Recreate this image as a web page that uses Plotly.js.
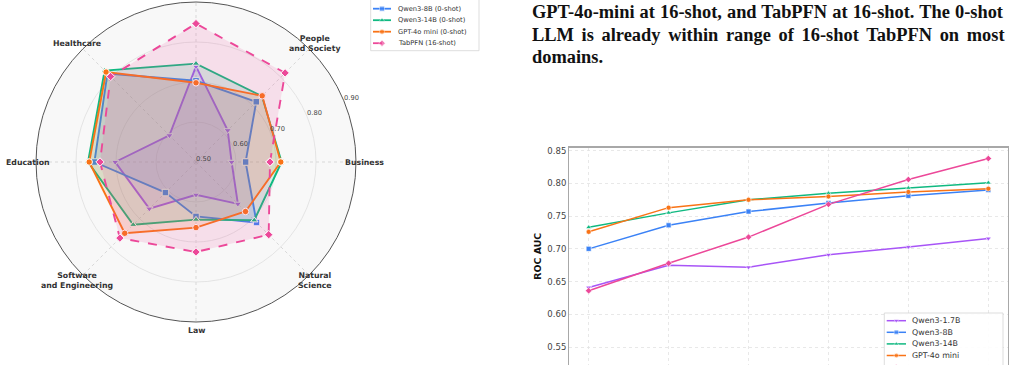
<!DOCTYPE html>
<html>
<head>
<meta charset="utf-8">
<script src="https://cdn.plot.ly/plotly-3.0.1.min.js"></script>
<style>html,body{margin:0;padding:0;background:#fff;}#chart{width:1017px;height:365px;}</style>
</head>
<body>
<div id="chart"></div>
<script>
// ---------------- data ----------------
// radar: domains (top axis label lies outside the cropped picture)
const domains = ['Business', 'People<br>and Society', '', 'Healthcare', 'Education',
                 'Software<br>and Engineering', 'Law', 'Natural<br>Science'];
const radarNames = ['Qwen3-1.7B (0-shot)', 'Qwen3-8B (0-shot)', 'Qwen3-14B (0-shot)',
                    'GPT-4o mini (0-shot)', 'TabPFN (16-shot)'];
const radarQwen17 = [0.589, 0.612, 0.739, 0.594, 0.702, 0.665, 0.582, 0.648];
const radarQwen8  = [0.624, 0.713, 0.703, 0.813, 0.754, 0.608, 0.636, 0.714];
const radarQwen14 = [0.714, 0.733, 0.746, 0.823, 0.770, 0.722, 0.644, 0.706];
const radarGpt    = [0.712, 0.734, 0.698, 0.818, 0.767, 0.752, 0.664, 0.675];
const radarTabpfn = [0.685, 0.815, 0.846, 0.802, 0.740, 0.769, 0.725, 0.757];
const radialTicks = [0.5, 0.6, 0.7, 0.8, 0.9];
const radialTickText = ['0.50', '0.60', '0.70', '0.80', '0.90'];

// line chart: ROC AUC vs number of shots
const shots = ['0', '1', '2', '4', '8', '16'];
const lineNames = ['Qwen3-1.7B', 'Qwen3-8B', 'Qwen3-14B', 'GPT-4o mini', 'TabPFN'];
const aucQwen17 = [0.641, 0.675, 0.672, 0.691, 0.703, 0.716];
const aucQwen8  = [0.700, 0.736, 0.757, 0.770, 0.781, 0.790];
const aucQwen14 = [0.733, 0.755, 0.775, 0.785, 0.793, 0.801];
const aucGpt    = [0.726, 0.763, 0.775, 0.780, 0.787, 0.792];
const aucTabpfn = [0.636, 0.678, 0.718, 0.768, 0.806, 0.838];
const yTicks = [0.55, 0.60, 0.65, 0.70, 0.75, 0.80, 0.85];

const captionLines = [
  'GPT-4o-mini at 16-shot, and TabPFN at 16-shot. The 0-shot',
  'LLM is already within range of 16-shot TabPFN on most',
  'domains.'
];

// ---------------- style ----------------
const W = 1017, H = 365;
const colors = ['#a855f7', '#3b82f6', '#10b981', '#f97316', '#ec4899'];
const symbols = ['triangle-down', 'square', 'triangle-up', 'circle', 'diamond'];
const radarDash = ['solid', 'solid', 'solid', 'solid', 'dash'];
const FONT = 'DejaVu Sans, sans-serif';
function rgba(hex, a) {
  const n = parseInt(hex.slice(1), 16);
  return `rgba(${n >> 16},${(n >> 8) & 255},${n & 255},${a})`;
}

const radarVals = [radarQwen17, radarQwen8, radarQwen14, radarGpt, radarTabpfn];
const aucVals = [aucQwen17, aucQwen8, aucQwen14, aucGpt, aucTabpfn];
const angles = domains.map((d, i) => i * 360 / domains.length);
const RMIN = 0.5, RMAX = 0.9, RANGLE = 22.5;

const traces = [];
// radar traces
radarVals.forEach((v, k) => {
  traces.push({
    type: 'scatterpolar', subplot: 'polar',
    r: v.concat([v[0]]), theta: angles.concat([angles[0]]),
    mode: 'lines+markers', fill: 'toself', fillcolor: rgba(colors[k], 0.15),
    line: {color: colors[k], width: 1.9, dash: radarDash[k]},
    marker: {symbol: symbols[k], size: 6.5, color: colors[k], line: {color: 'white', width: 1}},
    name: radarNames[k], showlegend: false, hoverinfo: 'skip'
  });
});
// line chart traces
aucVals.forEach((v, k) => {
  traces.push({
    type: 'scatter', xaxis: 'x2', yaxis: 'y2', x: shots, y: v,
    mode: 'lines+markers',
    line: {color: colors[k], width: 1.5},
    marker: {symbol: symbols[k], size: 5, color: colors[k], line: {color: 'white', width: 0.6}},
    name: lineNames[k], showlegend: false, hoverinfo: 'skip'
  });
});

// ---------------- legends (drawn on a pixel overlay axis) ----------------
const shapes = [], annotations = [];
function legendBlock(names, dashes, box, xs, y0, step, fsize, msize, lw) {
  shapes.push({type: 'rect', xref: 'x3', yref: 'y3', x0: box[0], x1: box[1], y0: box[2], y1: box[3],
               line: {color: '#d4d4d4', width: 0.8}, fillcolor: 'rgba(255,255,255,0.9)', layer: 'below'});
  names.forEach((nm, k) => {
    const y = y0 + k * step;
    traces.push({
      type: 'scatter', xaxis: 'x3', yaxis: 'y3',
      x: [xs[0], (xs[0] + xs[1]) / 2, xs[1]], y: [y, y, y], mode: 'lines+markers',
      line: {color: colors[k], width: lw, dash: dashes[k]},
      marker: {symbol: symbols[k], size: [0, msize, 0], color: colors[k], line: {color: 'white', width: [0, 0.6, 0]}},
      showlegend: false, hoverinfo: 'skip'
    });
    annotations.push({xref: 'x3', yref: 'y3', x: xs[2], y: y, xanchor: 'left', yanchor: 'middle',
      text: nm, showarrow: false, font: {family: FONT, size: fsize, color: '#333'}});
  });
}
legendBlock(radarNames, radarDash, [370.7, 479, -12, 50.7], [373, 391, 395.5], -2.8, 11.5, 6.7, 5, 1.8);
legendBlock(lineNames, ['solid', 'solid', 'solid', 'solid', 'solid'], [884.3, 1003, 313, 380],
            [886.7, 906, 910], 320.7, 11.6, 7.9, 4.5, 1.5);

// radar geometry (pixels) used for label placement
const cx = 196, cy = 162, R = 160;
// category labels, centred just outside the outer ring
domains.forEach((d, i) => {
  if (!d) return;
  const a = angles[i] * Math.PI / 180;
  annotations.push({xref: 'x3', yref: 'y3', x: cx + 168 * Math.cos(a), y: cy - 168 * Math.sin(a),
    xanchor: 'center', yanchor: 'middle', text: d, showarrow: false,
    font: {family: FONT, size: 7.8, color: '#333', weight: 'bold'}});
});
// radial tick labels, horizontal, just beyond each ring along the 22.5 degree spoke
radialTicks.forEach((v, i) => {
  const rp = (v - RMIN) / (RMAX - RMIN) * R, a = RANGLE * Math.PI / 180;
  annotations.push({xref: 'x3', yref: 'y3', x: cx + rp * Math.cos(a) + 7.2, y: cy - rp * Math.sin(a) - 2.8,
    xanchor: 'center', yanchor: 'middle', text: radialTickText[i], showarrow: false,
    font: {family: FONT, size: 6.7, color: '#444'}});
});

// caption text (justified paragraph fragment)
const captionSpacing = [0.5, 3.1, 0];
const baselines = [18.5, 40.7, 62.9];
captionLines.forEach((t, i) => {
  annotations.push({xref: 'x3', yref: 'y3', x: 530, y: baselines[i] - 6.2, xanchor: 'left', yanchor: 'middle',
    text: `<span style="word-spacing:${captionSpacing[i]}px">${t}</span>`, showarrow: false,
    font: {family: 'Liberation Serif, serif', size: 18.4, color: '#111', weight: 'bold'}});
});

const layout = {
  width: W, height: H,
  margin: {l: 0, r: 0, t: 0, b: 0, autoexpand: false},
  paper_bgcolor: '#fff', plot_bgcolor: 'rgba(0,0,0,0)',
  showlegend: false,
  font: {family: FONT, color: '#333'},
  polar: {
    domain: {x: [(cx - R) / W, (cx + R) / W], y: [(H - cy - R) / H, (H - cy + R) / H]},
    bgcolor: '#f8f8f8',
    radialaxis: {range: [RMIN, RMAX], angle: RANGLE, tickvals: radialTicks, showticklabels: false,
                 showline: false, ticks: '', gridcolor: '#dedede', gridwidth: 0.8, layer: 'above traces'},
    angularaxis: {tickvals: angles, ticktext: domains, showticklabels: false, rotation: 0,
                  direction: 'counterclockwise', thetaunit: 'degrees', showline: true, linecolor: '#555',
                  linewidth: 1, gridcolor: '#cfcfcf', griddash: 'dot', gridwidth: 0.8, ticks: ''}
  },
  xaxis2: {domain: [569.3 / W, 1007.7 / W], anchor: 'y2', type: 'category', range: [-0.2425, 5.2425],
           showticklabels: false, ticks: '', showgrid: true, gridcolor: '#e2e2e2', griddash: 'dot', gridwidth: 0.8,
           showline: true, mirror: true, linecolor: '#a8a8a8', linewidth: 1.3, zeroline: false, fixedrange: true},
  yaxis2: {domain: [0, (H - 147.5) / H], anchor: 'x2', range: [0.5225, 0.8549], tickvals: yTicks,
           tickformat: '.2f', ticks: '', showgrid: true, gridcolor: '#e2e2e2', griddash: 'dot', gridwidth: 0.8,
           showline: true, mirror: true, linecolor: '#a8a8a8', linewidth: 1.3, zeroline: false,
           tickfont: {size: 8.5, color: '#444', family: FONT},
           title: {text: 'ROC AUC', standoff: 4, font: {size: 9.4, color: '#111', family: FONT, weight: 'bold'}},
           fixedrange: true},
  xaxis3: {domain: [0, 1], anchor: 'y3', range: [0, W], visible: false, fixedrange: true},
  yaxis3: {domain: [0, 1], anchor: 'x3', range: [H, 0], visible: false, fixedrange: true},
  shapes: shapes,
  annotations: annotations
};

Plotly.newPlot('chart', traces, layout, {staticPlot: true, displayModeBar: false});
</script>
</body>
</html>
